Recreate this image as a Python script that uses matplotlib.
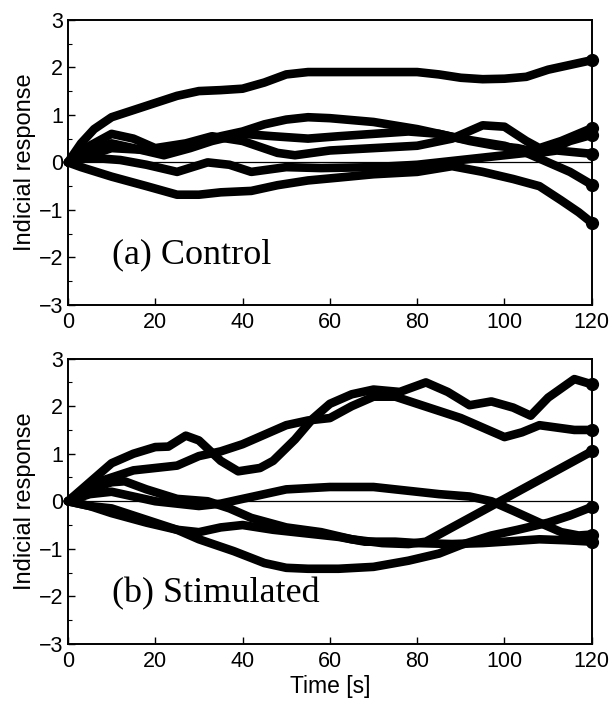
import matplotlib
matplotlib.use("Agg")
import matplotlib.pyplot as plt
from matplotlib.ticker import MultipleLocator

# (a) Control - six indicial responses
ctrl_1_t = [0, 3, 6, 10, 15, 20, 25, 30, 35, 40, 45, 50, 55, 60, 70, 80, 85, 90, 95, 100, 105, 110, 115, 120]
ctrl_1_y = [0, 0.4, 0.7, 0.95, 1.1, 1.25, 1.4, 1.5, 1.52, 1.55, 1.68, 1.85, 1.9, 1.9, 1.9, 1.9, 1.85, 1.78, 1.75, 1.76, 1.8, 1.95, 2.05, 2.15]

ctrl_2_t = [0, 3, 10, 18, 25, 30, 35, 42, 48, 55, 62, 70, 80, 88, 95, 102, 108, 113, 117, 120]
ctrl_2_y = [0, -0.1, -0.3, -0.5, -0.68, -0.68, -0.63, -0.6, -0.48, -0.38, -0.32, -0.25, -0.2, -0.08, -0.2, -0.35, -0.5, -0.8, -1.05, -1.27]

ctrl_3_t = [0, 5, 10, 20, 30, 35, 40, 45, 50, 55, 60, 70, 80, 90, 100, 105, 110, 115, 120]
ctrl_3_y = [0, 0.15, 0.3, 0.25, 0.4, 0.55, 0.65, 0.8, 0.9, 0.95, 0.93, 0.85, 0.7, 0.5, 0.35, 0.2, 0.0, -0.2, -0.47]

ctrl_4_t = [0, 5, 10, 15, 20, 27, 33, 40, 48, 52, 60, 70, 80, 88, 95, 100, 105, 108, 113, 120]
ctrl_4_y = [0, 0.35, 0.6, 0.5, 0.3, 0.4, 0.55, 0.45, 0.2, 0.15, 0.25, 0.3, 0.35, 0.5, 0.78, 0.75, 0.45, 0.3, 0.45, 0.72]

ctrl_5_t = [0, 5, 12, 18, 25, 32, 37, 42, 50, 58, 70, 80, 90, 95, 100, 105, 110, 115, 120]
ctrl_5_y = [0, 0.1, 0.05, -0.05, -0.2, 0.0, -0.05, -0.2, -0.1, -0.12, -0.1, -0.05, 0.05, 0.1, 0.15, 0.2, 0.25, 0.45, 0.58]

ctrl_6_t = [0, 5, 10, 15, 22, 28, 33, 40, 47, 55, 62, 70, 78, 85, 92, 98, 103, 108, 112, 120]
ctrl_6_y = [0, 0.25, 0.4, 0.3, 0.15, 0.3, 0.45, 0.6, 0.55, 0.5, 0.55, 0.6, 0.65, 0.6, 0.45, 0.35, 0.3, 0.2, 0.25, 0.18]

# (b) Stimulated
stim_1_t = [0, 5, 10, 15, 20, 23, 27, 30, 35, 39, 44, 47, 52, 56, 60, 65, 70, 76, 82, 87, 92, 97, 102, 106, 110, 116, 120]
stim_1_y = [0, 0.4, 0.8, 1.0, 1.14, 1.15, 1.38, 1.28, 0.85, 0.63, 0.7, 0.85, 1.3, 1.73, 2.05, 2.25, 2.35, 2.3, 2.5, 2.3, 2.02, 2.1, 1.97, 1.8, 2.18, 2.57, 2.46]

stim_2_t = [0, 5, 10, 15, 20, 25, 30, 35, 40, 45, 50, 55, 60, 65, 70, 75, 80, 85, 90, 95, 100, 104, 108, 112, 116, 120]
stim_2_y = [0, 0.35, 0.5, 0.65, 0.7, 0.75, 0.95, 1.05, 1.2, 1.4, 1.6, 1.7, 1.75, 2.0, 2.2, 2.2, 2.05, 1.9, 1.75, 1.55, 1.35, 1.45, 1.6, 1.55, 1.5, 1.5]

stim_3_t = [0, 5, 10, 13, 18, 25, 32, 37, 42, 50, 58, 65, 72, 78, 82, 87, 92, 97, 100, 105, 110, 115, 120]
stim_3_y = [0, 0.25, 0.4, 0.42, 0.25, 0.05, 0.0, -0.15, -0.35, -0.55, -0.65, -0.8, -0.88, -0.9, -0.85, -0.6, -0.35, -0.1, 0.05, 0.3, 0.55, 0.8, 1.05]

stim_4_t = [0, 5, 10, 18, 25, 30, 38, 45, 50, 55, 62, 70, 78, 85, 90, 97, 103, 110, 115, 120]
stim_4_y = [0, -0.1, -0.25, -0.45, -0.6, -0.8, -1.05, -1.3, -1.4, -1.42, -1.42, -1.38, -1.25, -1.1, -0.92, -0.72, -0.6, -0.45, -0.3, -0.12]

stim_5_t = [0, 5, 10, 15, 20, 25, 30, 35, 40, 45, 50, 60, 70, 78, 85, 92, 97, 102, 108, 113, 117, 120]
stim_5_y = [0, 0.15, 0.2, 0.1, 0.0, -0.05, -0.1, -0.05, 0.05, 0.15, 0.25, 0.3, 0.3, 0.22, 0.15, 0.1, 0.0, -0.2, -0.45, -0.65, -0.72, -0.7]

stim_6_t = [0, 5, 10, 15, 20, 25, 30, 35, 40, 47, 55, 62, 68, 75, 80, 88, 95, 100, 108, 114, 120]
stim_6_y = [0, -0.1, -0.15, -0.3, -0.45, -0.6, -0.65, -0.55, -0.5, -0.6, -0.68, -0.75, -0.85, -0.85, -0.88, -0.9, -0.88, -0.85, -0.8, -0.82, -0.85]

control = [(ctrl_1_t, ctrl_1_y), (ctrl_2_t, ctrl_2_y), (ctrl_3_t, ctrl_3_y),
           (ctrl_4_t, ctrl_4_y), (ctrl_5_t, ctrl_5_y), (ctrl_6_t, ctrl_6_y)]
stimulated = [(stim_1_t, stim_1_y), (stim_2_t, stim_2_y), (stim_3_t, stim_3_y),
              (stim_4_t, stim_4_y), (stim_5_t, stim_5_y), (stim_6_t, stim_6_y)]

plt.rcParams['font.family'] = ['Liberation Sans', 'DejaVu Sans']

fig = plt.figure(figsize=(6.12, 7.06), dpi=100)
ax1 = fig.add_axes([0.111, 0.568, 0.856, 0.404])
ax2 = fig.add_axes([0.111, 0.088, 0.856, 0.404])


def draw_panel(ax, curves, label):
    ax.axhline(0, color='black', lw=0.9, zorder=1)
    for t, y in curves:
        ax.plot(t, y, color='black', lw=6.2, solid_capstyle='round',
                solid_joinstyle='round', marker='o', markersize=8.5,
                markevery=[len(t) - 1], zorder=2, clip_on=False)
    ax.set_xlim(0, 120)
    ax.set_ylim(-3, 3)
    ax.set_xticks([0, 20, 40, 60, 80, 100, 120])
    ax.set_yticks([-3, -2, -1, 0, 1, 2, 3])
    ax.yaxis.set_minor_locator(MultipleLocator(0.5))
    ax.tick_params(axis='both', which='both', direction='in', labelsize=15.5,
                   top=False, right=False)
    ax.tick_params(axis='x', pad=5)
    ax.tick_params(which='major', length=5, width=1)
    ax.tick_params(which='minor', length=3, width=0.8)
    ax.set_ylabel('Indicial response', fontsize=17, labelpad=2)
    for s in ax.spines.values():
        s.set_linewidth(1.4)
    ax.text(10, -1.95, label, family=['Liberation Serif', 'DejaVu Serif'],
            fontsize=26, va='center', ha='left')


draw_panel(ax1, control, '(a) Control')
draw_panel(ax2, stimulated, '(b) Stimulated')
ax2.set_xlabel('Time [s]', fontsize=16.5, labelpad=2)

fig.savefig('out.png', dpi=100)
